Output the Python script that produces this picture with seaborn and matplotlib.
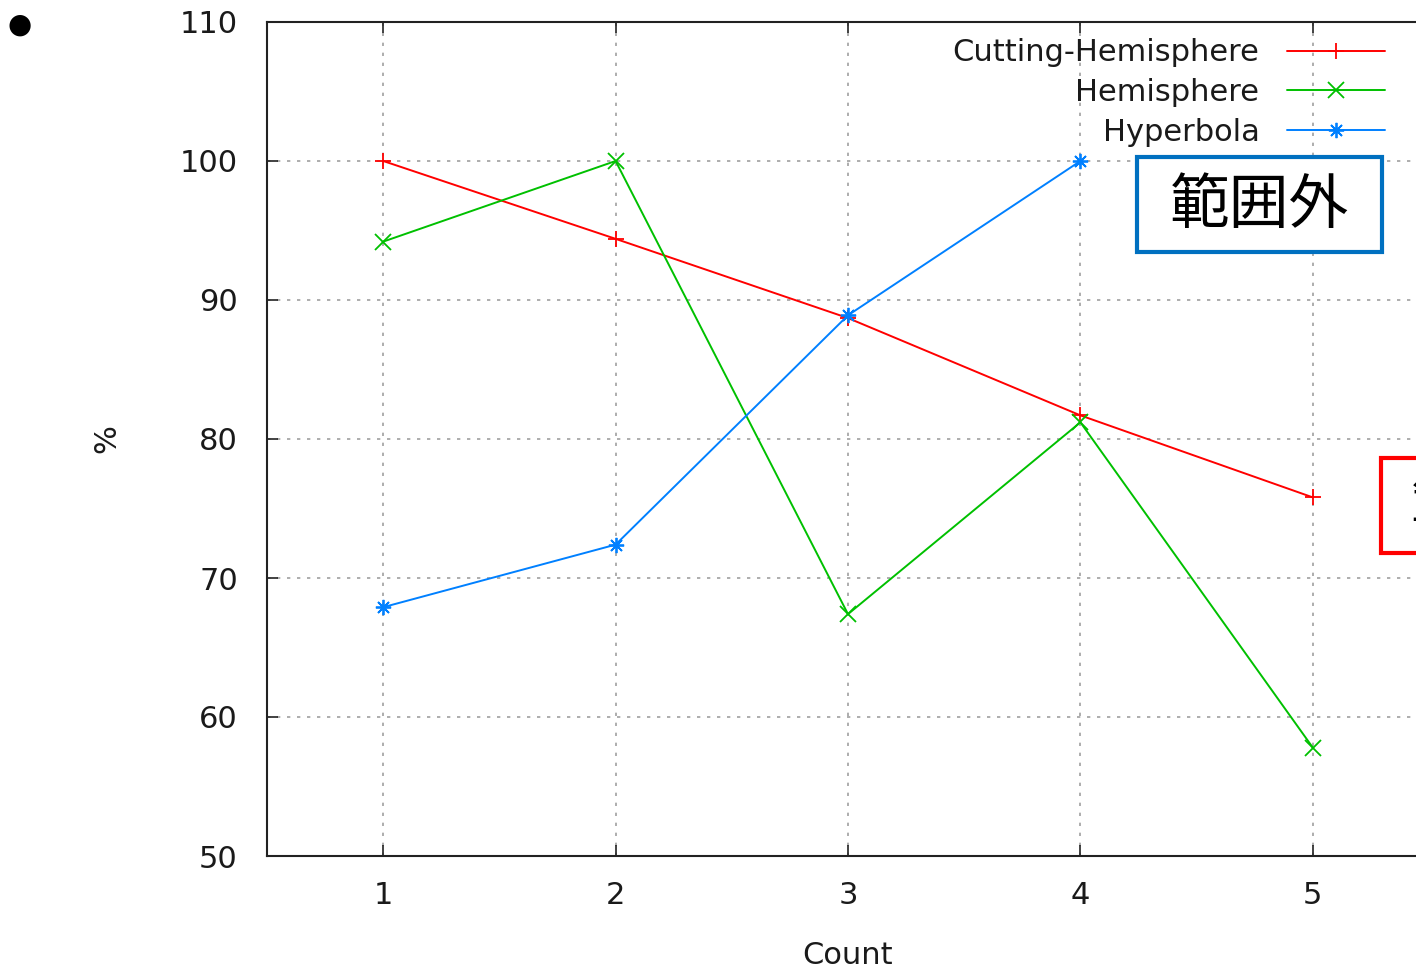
import numpy as np
import pandas as pd
import matplotlib
matplotlib.use("Agg")
import matplotlib.pyplot as plt
from matplotlib.patches import Rectangle
import seaborn as sns

# ── Data ─────────────────────────────────────────────────────────────────────
counts = [1, 2, 3, 4, 5]
cutting_hemisphere = [100.0, 94.4, 88.7, 81.7, 75.8]
hemisphere = [94.2, 100.0, 67.4, 81.2, 57.8]
hyperbola = [67.9, 72.4, 88.9, 100.0, np.nan]   # 5 is out of range
series_names = ["Cutting-Hemisphere", "Hemisphere", "Hyperbola"]

COLORS = {"Cutting-Hemisphere": "#ff0000", "Hemisphere": "#00c000", "Hyperbola": "#0080ff"}
MARKERS = {"Cutting-Hemisphere": "+", "Hemisphere": "x", "Hyperbola": (8, 2, 0)}

df = pd.DataFrame({
    "Count": counts * 3,
    "value": cutting_hemisphere + hemisphere + hyperbola,
    "series": sum([[s] * len(counts) for s in series_names], []),
})

# ── Style ────────────────────────────────────────────────────────────────────
sns.set_theme(style="white")
plt.rcParams["font.family"] = ["DejaVu Sans", "Noto Sans CJK JP"]
TXT = "#1a1a1a"

W, H = 1416, 967
fig = plt.figure(figsize=(W / 100, H / 100), dpi=100)
ax = fig.add_axes([267 / W, (H - 856) / H, (1429 - 267) / W, 834 / H])

for name in series_names:
    sub = df[df["series"] == name]
    sns.lineplot(data=sub, x="Count", y="value", ax=ax, color=COLORS[name],
                 marker=MARKERS[name], markersize=11, markeredgewidth=1.3,
                 markeredgecolor=COLORS[name], linewidth=1.4, label=name)

ax.set_xlim(0.5, 5.5)
ax.set_ylim(50, 110)
ax.set_xticks(counts)
ax.set_yticks(np.arange(50, 111, 10))
ax.grid(True, color="#a0a0a0", linestyle=(0, (2, 4)), linewidth=1.2)
ax.set_axisbelow(True)
for sp in ax.spines.values():
    sp.set_color("#222222")
    sp.set_linewidth(1.5)
ax.tick_params(axis="x", direction="in", length=8, width=1.2, pad=18,
               labelsize=22, labelcolor=TXT, top=True, bottom=True, color="#222222")
ax.tick_params(axis="y", direction="in", length=8, width=1.2, pad=21,
               labelsize=22, labelcolor=TXT, left=True, color="#222222")
ax.set_xlabel("Count", fontsize=22, color=TXT, labelpad=22)
ax.set_ylabel("%", fontsize=22, color=TXT, labelpad=42)

leg = ax.legend(loc="upper right", bbox_to_anchor=(1397 / W, 1 - 26 / H),
                bbox_transform=fig.transFigure, frameon=False, markerfirst=False,
                fontsize=22, handlelength=3.2, handletextpad=0.9, labelspacing=0.35,
                borderaxespad=0)
for t in leg.get_texts():
    t.set_color(TXT)

# ── Annotations ──────────────────────────────────────────────────────────────
fig.text(20 / W, 1 - 25 / H, "●", fontsize=20, ha="center", va="center", color="black")

fig.patches.append(Rectangle((1137 / W, (H - 252) / H), 245 / W, 95 / H,
                             transform=fig.transFigure, fill=True, facecolor="white",
                             edgecolor="#0070c0", linewidth=3, zorder=5))
fig.text(1259 / W, 1 - 206 / H, "範囲外", fontsize=43, ha="center", va="center",
         color="black", family=["Noto Sans CJK JP"], zorder=6)

# second note box, mostly beyond the right edge of the picture
fig.patches.append(Rectangle((1381 / W, (H - 553) / H), 120 / W, 95 / H,
                             transform=fig.transFigure, fill=True, facecolor="white",
                             edgecolor="#ff0000", linewidth=3, zorder=5))
fig.text(1411 / W, 1 - 506 / H, "範囲外", fontsize=43, ha="left", va="center",
         color="black", family=["Noto Sans CJK JP"], zorder=6)

fig.savefig("out.png", dpi=100)
